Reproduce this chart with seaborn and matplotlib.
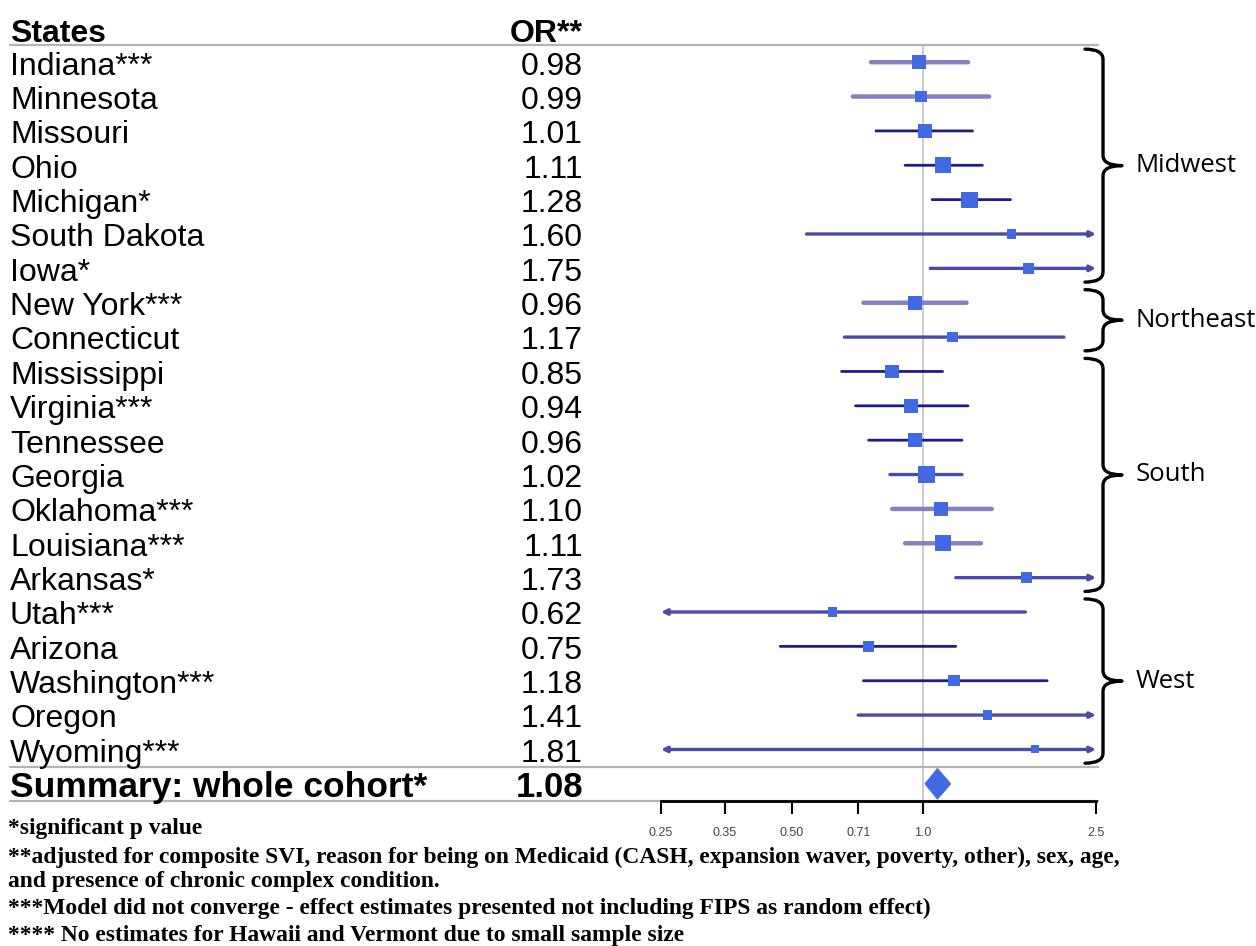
import numpy as np
import pandas as pd
import matplotlib
matplotlib.use('Agg')
from matplotlib import pyplot as plt
from matplotlib.path import Path
from matplotlib.patches import PathPatch, Polygon
from matplotlib.transforms import blended_transform_factory
import seaborn as sns

# 데이터
states = ['Indiana***', 'Minnesota', 'Missouri', 'Ohio', 'Michigan*', 'South Dakota', 'Iowa*',
          'New York***', 'Connecticut',
          'Mississippi', 'Virginia***', 'Tennessee', 'Georgia', 'Oklahoma***', 'Louisiana***', 'Arkansas*',
          'Utah***', 'Arizona', 'Washington***', 'Oregon', 'Wyoming***']
regions = ['Midwest'] * 7 + ['Northeast'] * 2 + ['South'] * 7 + ['West'] * 5
or_values = [0.98, 0.99, 1.01, 1.11, 1.28, 1.60, 1.75,
             0.96, 1.17,
             0.85, 0.94, 0.96, 1.02, 1.10, 1.11, 1.73,
             0.62, 0.75, 1.18, 1.41, 1.81]
# np.inf = 축 범위 밖 (화살표로 표시)
ci_lower = [0.76, 0.69, 0.78, 0.91, 1.05, 0.54, 1.04,
            0.73, 0.66,
            0.65, 0.70, 0.75, 0.84, 0.85, 0.91, 1.19,
            -np.inf, 0.47, 0.73, 0.71, -np.inf]
ci_upper = [1.27, 1.42, 1.30, 1.37, 1.59, np.inf, np.inf,
            1.26, 2.11,
            1.11, 1.27, 1.23, 1.23, 1.44, 1.36, np.inf,
            1.72, 1.19, 1.93, np.inf, np.inf]
box_weight = [12, 10, 12, 14, 14, 8, 9,
              12, 9,
              12, 12, 12, 15, 12, 14, 10,
              8, 10, 10, 8, 7]

summary_label = 'Summary: whole cohort*'
summary_or = 1.08
summary_ci = (1.01, 1.16)

x_ticks = [0.25, 0.35, 0.50, 0.71, 1.0, 2.5]
x_tick_labels = ['0.25', '0.35', '0.50', '0.71', '1.0', '2.5']

footnotes = ['*significant p value',
             '**adjusted for composite SVI, reason for being on Medicaid (CASH, expansion waver, poverty, other), sex, age,',
             'and presence of chronic complex condition.',
             '***Model did not converge - effect estimates presented not including FIPS as random effect)',
             '**** No estimates for Hawaii and Vermont due to small sample size']

# 선 색 (원본 이미지의 농도 차이)
light_rows = {'Indiana***', 'Minnesota', 'New York***', 'Oklahoma***', 'Louisiana***'}
medium_rows = {'South Dakota', 'Iowa*', 'Connecticut', 'Georgia', 'Arkansas*', 'Utah***', 'Oregon', 'Wyoming***'}

df = pd.DataFrame({'state': states, 'region': regions, 'OR': or_values,
                   'lo': ci_lower, 'hi': ci_upper, 'w': box_weight})
df['row'] = np.arange(len(df))
df['area'] = (df['w'] * 0.72 * 1.15) ** 2

sns.set_style('white')
plt.rcParams['font.family'] = ['Liberation Sans', 'DejaVu Sans']
plt.rcParams['text.color'] = 'black'

W, H = 1256, 946
fig = plt.figure(figsize=(W / 100, H / 100), dpi=100)
ax = fig.add_axes([661 / W, 1 - 801 / H, 435 / W, 756 / H])

xmin, xmax = 0.25, 2.5
ax.set_xscale('log')
ax.set_xlim(xmin, xmax)
ax.set_ylim(len(df) + 0.5, -0.5)

ax.axvline(1.0, color='#c8c8c8', lw=1.3, zorder=0)

# 신뢰구간 선
for _, r in df.iterrows():
    if r['state'] in light_rows:
        col, lw = '#8282c4', 3.2
    elif r['state'] in medium_rows:
        col, lw = '#4a4aa8', 2.4
    else:
        col, lw = '#1c1c8c', 2.0
    left = max(r['lo'], xmin)
    right = min(r['hi'], xmax)
    style = ('<|' if r['lo'] < xmin else '') + '-' + ('|>' if r['hi'] > xmax else '')
    ax.annotate('', xy=(right, r['row']), xytext=(left, r['row']),
                arrowprops=dict(arrowstyle=style, color=col, lw=lw,
                                shrinkA=0, shrinkB=0, mutation_scale=8),
                zorder=2)

sns.scatterplot(data=df, x='OR', y='row', size='area', sizes=(df['area'].min(), df['area'].max()),
                size_norm=(df['area'].min(), df['area'].max()), marker='s', color='#4169e1',
                edgecolor='none', legend=False, ax=ax, zorder=3)

# 요약 다이아몬드
sy = len(df)
diamond = Polygon([(summary_ci[0], sy), (summary_or, sy - 0.45), (summary_ci[1], sy), (summary_or, sy + 0.45)],
                  closed=True, facecolor='#4169e1', edgecolor='#4169e1', lw=0.5, zorder=3)
ax.add_patch(diamond)

ax.set_xticks(x_ticks)
ax.set_xticklabels(x_tick_labels)
ax.minorticks_off()
ax.set_yticks([])
ax.set_xlabel('')
ax.set_ylabel('')
for s in ['top', 'left', 'right']:
    ax.spines[s].set_visible(False)
ax.spines['bottom'].set_color('black')
ax.spines['bottom'].set_linewidth(2)
ax.spines['bottom'].set_zorder(4)
ax.tick_params(axis='x', direction='out', length=9, width=1.5, color='black',
               labelsize=9, labelcolor='#444444', pad=10, bottom=True)

trans = blended_transform_factory(fig.transFigure, ax.transData)

# 가로 회색 선
for yy in [-0.5, len(df) - 0.5, len(df) + 0.5]:
    ax.plot([10 / W, 1098 / W], [yy, yy], color='#b4b4b4', lw=1.6, transform=trans,
            clip_on=False, zorder=1)

# 표 텍스트
ax.text(10 / W, -0.6, 'States', transform=trans, fontsize=23, fontweight='bold',
        ha='left', va='baseline')
ax.text(583 / W, -0.6, 'OR**', transform=trans, fontsize=23, fontweight='bold',
        ha='right', va='baseline')
for _, r in df.iterrows():
    ax.text(10 / W, r['row'] + 0.36, r['state'], transform=trans, fontsize=23,
            ha='left', va='baseline')
    ax.text(583 / W, r['row'] + 0.36, '%.2f' % r['OR'], transform=trans, fontsize=23,
            ha='right', va='baseline')
ax.text(10 / W, sy + 0.38, summary_label, transform=trans, fontsize=25.5, fontweight='bold',
        ha='left', va='baseline')
ax.text(583 / W, sy + 0.38, '%.2f' % summary_or, transform=trans, fontsize=25, fontweight='bold',
        ha='right', va='baseline')


# 지역 중괄호
def draw_brace(top, bot, label):
    xl, xs, xt = 1085 / W, 1103 / W, 1122 / W
    mid = (top + bot) / 2
    c = 0.3
    verts = [(xl, top), (xs, top), (xs, top + c),
             (xs, mid - c), (xs, mid), (xt, mid),
             (xs, mid), (xs, mid + c),
             (xs, bot - c), (xs, bot), (xl, bot)]
    codes = [Path.MOVETO, Path.CURVE3, Path.CURVE3,
             Path.LINETO, Path.CURVE3, Path.CURVE3,
             Path.CURVE3, Path.CURVE3,
             Path.LINETO, Path.CURVE3, Path.CURVE3]
    ax.add_patch(PathPatch(Path(verts, codes), transform=trans, facecolor='none',
                           edgecolor='black', lw=2.4, clip_on=False, capstyle='round',
                           joinstyle='round'))
    ax.text(1136 / W, mid, label, transform=trans, fontsize=18.5, family=['Open Sans', 'DejaVu Sans'],
            ha='left', va='center')


for reg in df['region'].unique():
    rows = df.loc[df['region'] == reg, 'row']
    draw_brace(rows.min() - 0.38, rows.max() + 0.4, reg)

# 각주
foot_y = [828, 857, 881, 908, 935]
for txt, yy in zip(footnotes, foot_y):
    fig.text(8 / W, 1 - yy / H, txt, fontsize=16.9, fontweight='bold',
             family=['Liberation Serif', 'DejaVu Serif'], ha='left', va='center')

fig.savefig('out.png', dpi=100)
